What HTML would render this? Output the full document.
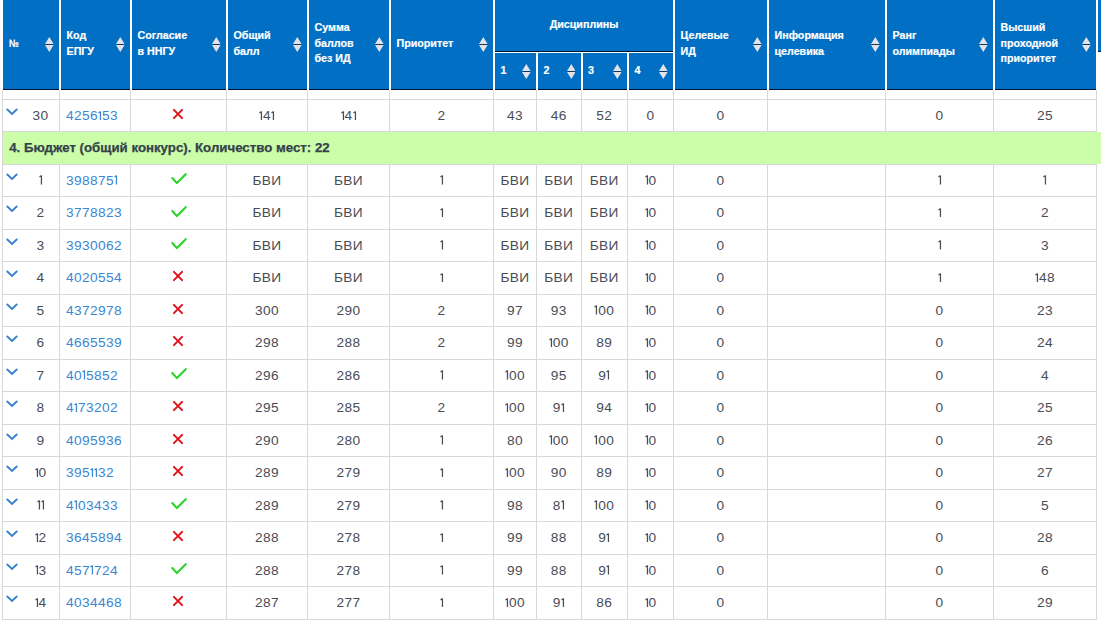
<!DOCTYPE html>
<html><head><meta charset="utf-8"><style>
html,body{margin:0;padding:0;background:#fff;width:1101px;height:620px;overflow:hidden;}
#w{position:relative;width:1101px;height:620px;overflow:hidden;}
#w div,#w span,#w svg{position:absolute;}
#w .ic{position:static;display:block;}
.ht{font-family:"Liberation Sans",sans-serif;font-weight:bold;font-size:10.7px;line-height:15.7px;color:#fff;white-space:nowrap;-webkit-text-stroke:0.2px #fff;}
.bt{font-family:"Liberation Sans",sans-serif;font-size:13.7px;line-height:16px;color:#4a4d55;white-space:nowrap;}
.lk{color:#3a87d3;}
#w svg.one{position:static;display:inline-block;vertical-align:baseline;}
.bt{letter-spacing:0.38px;}
.gt{font-family:"Liberation Sans",sans-serif;font-weight:bold;font-size:13.25px;line-height:16px;color:#34424b;white-space:nowrap;-webkit-text-stroke:0.25px #34424b;}
</style></head><body><div id="w">
<div style="left:3px;top:0px;width:1093px;height:89px;background:rgb(0,111,196);"></div>
<div style="left:3px;top:89px;width:1093px;height:1px;background:rgb(0,22,52);"></div>
<div style="left:59px;top:0px;width:2px;height:90px;background:#fff;"></div>
<div style="left:130px;top:0px;width:2px;height:90px;background:#fff;"></div>
<div style="left:226px;top:0px;width:2px;height:90px;background:#fff;"></div>
<div style="left:307px;top:0px;width:2px;height:90px;background:#fff;"></div>
<div style="left:389px;top:0px;width:2px;height:90px;background:#fff;"></div>
<div style="left:493px;top:0px;width:2px;height:90px;background:#fff;"></div>
<div style="left:536px;top:0px;width:2px;height:90px;background:#fff;"></div>
<div style="left:581px;top:0px;width:2px;height:90px;background:#fff;"></div>
<div style="left:627px;top:0px;width:2px;height:90px;background:#fff;"></div>
<div style="left:673px;top:0px;width:2px;height:90px;background:#fff;"></div>
<div style="left:767px;top:0px;width:2px;height:90px;background:#fff;"></div>
<div style="left:885px;top:0px;width:2px;height:90px;background:#fff;"></div>
<div style="left:993px;top:0px;width:2px;height:90px;background:#fff;"></div>
<div style="left:1096px;top:0px;width:2px;height:90px;background:#fff;"></div>
<div style="left:1098px;top:0px;width:3px;height:51px;background:rgb(0,111,196);"></div>
<div style="left:1098px;top:51px;width:3px;height:1px;background:rgb(0,22,52);"></div>
<div style="left:495px;top:51px;width:178px;height:1px;background:rgb(0,22,52);"></div>
<div style="left:495px;top:52px;width:178px;height:1px;background:#fff;"></div>
<div style="left:495px;top:0px;width:178px;height:51px;background:rgb(0,111,196);"></div>
<div class="ht" style="left:9px;top:35.75px"><span style="position:static;display:inline-block;transform:scaleX(0.82);transform-origin:0 0">№</span></div>
<svg style="left:45.199999999999996px;top:37.1px" width="8.6" height="15.0" viewBox="0 0 8.6 15.0"><rect x="0.6" y="7.1" width="7.3999999999999995" height="0.8" fill="#0a2e5c"/><path d="M0 7.0 L4.3 0 L8.6 7.0 Z M0 8.0 L4.3 15.0 L8.6 8.0 Z" fill="#e2e2e8"/></svg>
<div class="ht" style="left:66.5px;top:27.900000000000002px">Код<br>ЕПГУ</div>
<svg style="left:116.2px;top:37.1px" width="8.6" height="15.0" viewBox="0 0 8.6 15.0"><rect x="0.6" y="7.1" width="7.3999999999999995" height="0.8" fill="#0a2e5c"/><path d="M0 7.0 L4.3 0 L8.6 7.0 Z M0 8.0 L4.3 15.0 L8.6 8.0 Z" fill="#e2e2e8"/></svg>
<div class="ht" style="left:137.5px;top:27.900000000000002px">Согласие<br>в ННГУ</div>
<svg style="left:212.20000000000002px;top:37.1px" width="8.6" height="15.0" viewBox="0 0 8.6 15.0"><rect x="0.6" y="7.1" width="7.3999999999999995" height="0.8" fill="#0a2e5c"/><path d="M0 7.0 L4.3 0 L8.6 7.0 Z M0 8.0 L4.3 15.0 L8.6 8.0 Z" fill="#e2e2e8"/></svg>
<div class="ht" style="left:233.5px;top:27.900000000000002px">Общий<br>балл</div>
<svg style="left:293.2px;top:37.1px" width="8.6" height="15.0" viewBox="0 0 8.6 15.0"><rect x="0.6" y="7.1" width="7.3999999999999995" height="0.8" fill="#0a2e5c"/><path d="M0 7.0 L4.3 0 L8.6 7.0 Z M0 8.0 L4.3 15.0 L8.6 8.0 Z" fill="#e2e2e8"/></svg>
<div class="ht" style="left:314.5px;top:20.050000000000004px">Сумма<br>баллов<br>без ИД</div>
<svg style="left:375.2px;top:37.1px" width="8.6" height="15.0" viewBox="0 0 8.6 15.0"><rect x="0.6" y="7.1" width="7.3999999999999995" height="0.8" fill="#0a2e5c"/><path d="M0 7.0 L4.3 0 L8.6 7.0 Z M0 8.0 L4.3 15.0 L8.6 8.0 Z" fill="#e2e2e8"/></svg>
<div class="ht" style="left:396.5px;top:35.75px">Приоритет</div>
<svg style="left:479.2px;top:37.1px" width="8.6" height="15.0" viewBox="0 0 8.6 15.0"><rect x="0.6" y="7.1" width="7.3999999999999995" height="0.8" fill="#0a2e5c"/><path d="M0 7.0 L4.3 0 L8.6 7.0 Z M0 8.0 L4.3 15.0 L8.6 8.0 Z" fill="#e2e2e8"/></svg>
<div class="ht" style="left:680.5px;top:27.900000000000002px">Целевые<br>ИД</div>
<svg style="left:753.1999999999999px;top:37.1px" width="8.6" height="15.0" viewBox="0 0 8.6 15.0"><rect x="0.6" y="7.1" width="7.3999999999999995" height="0.8" fill="#0a2e5c"/><path d="M0 7.0 L4.3 0 L8.6 7.0 Z M0 8.0 L4.3 15.0 L8.6 8.0 Z" fill="#e2e2e8"/></svg>
<div class="ht" style="left:774.5px;top:27.900000000000002px">Информация<br>целевика</div>
<svg style="left:871.1999999999999px;top:37.1px" width="8.6" height="15.0" viewBox="0 0 8.6 15.0"><rect x="0.6" y="7.1" width="7.3999999999999995" height="0.8" fill="#0a2e5c"/><path d="M0 7.0 L4.3 0 L8.6 7.0 Z M0 8.0 L4.3 15.0 L8.6 8.0 Z" fill="#e2e2e8"/></svg>
<div class="ht" style="left:892.5px;top:27.900000000000002px">Ранг<br>олимпиады</div>
<svg style="left:979.1999999999999px;top:37.1px" width="8.6" height="15.0" viewBox="0 0 8.6 15.0"><rect x="0.6" y="7.1" width="7.3999999999999995" height="0.8" fill="#0a2e5c"/><path d="M0 7.0 L4.3 0 L8.6 7.0 Z M0 8.0 L4.3 15.0 L8.6 8.0 Z" fill="#e2e2e8"/></svg>
<div class="ht" style="left:1000.5px;top:20.050000000000004px">Высший<br>проходной<br>приоритет</div>
<svg style="left:1082.2px;top:37.1px" width="8.6" height="15.0" viewBox="0 0 8.6 15.0"><rect x="0.6" y="7.1" width="7.3999999999999995" height="0.8" fill="#0a2e5c"/><path d="M0 7.0 L4.3 0 L8.6 7.0 Z M0 8.0 L4.3 15.0 L8.6 8.0 Z" fill="#e2e2e8"/></svg>
<span class="ht" style="left:494.0px;top:17.15px;width:180px;text-align:center;">Дисциплины</span>
<div class="ht" style="left:500.5px;top:63.050000000000004px">1</div>
<svg style="left:522.1999999999999px;top:63.8px" width="8.6" height="15.0" viewBox="0 0 8.6 15.0"><rect x="0.6" y="7.1" width="7.3999999999999995" height="0.8" fill="#0a2e5c"/><path d="M0 7.0 L4.3 0 L8.6 7.0 Z M0 8.0 L4.3 15.0 L8.6 8.0 Z" fill="#e2e2e8"/></svg>
<div class="ht" style="left:543.5px;top:63.050000000000004px">2</div>
<svg style="left:566.6999999999999px;top:63.8px" width="8.6" height="15.0" viewBox="0 0 8.6 15.0"><rect x="0.6" y="7.1" width="7.3999999999999995" height="0.8" fill="#0a2e5c"/><path d="M0 7.0 L4.3 0 L8.6 7.0 Z M0 8.0 L4.3 15.0 L8.6 8.0 Z" fill="#e2e2e8"/></svg>
<div class="ht" style="left:588px;top:63.050000000000004px">3</div>
<svg style="left:613.1999999999999px;top:63.8px" width="8.6" height="15.0" viewBox="0 0 8.6 15.0"><rect x="0.6" y="7.1" width="7.3999999999999995" height="0.8" fill="#0a2e5c"/><path d="M0 7.0 L4.3 0 L8.6 7.0 Z M0 8.0 L4.3 15.0 L8.6 8.0 Z" fill="#e2e2e8"/></svg>
<div class="ht" style="left:634.5px;top:63.050000000000004px">4</div>
<svg style="left:659.1999999999999px;top:63.8px" width="8.6" height="15.0" viewBox="0 0 8.6 15.0"><rect x="0.6" y="7.1" width="7.3999999999999995" height="0.8" fill="#0a2e5c"/><path d="M0 7.0 L4.3 0 L8.6 7.0 Z M0 8.0 L4.3 15.0 L8.6 8.0 Z" fill="#e2e2e8"/></svg>
<div style="left:2px;top:90px;width:1px;height:530px;background:#d8d8d8;"></div>
<div style="left:59px;top:90px;width:1px;height:530px;background:#d8d8d8;"></div>
<div style="left:130px;top:90px;width:1px;height:530px;background:#d8d8d8;"></div>
<div style="left:226px;top:90px;width:1px;height:530px;background:#d8d8d8;"></div>
<div style="left:307px;top:90px;width:1px;height:530px;background:#d8d8d8;"></div>
<div style="left:389px;top:90px;width:1px;height:530px;background:#d8d8d8;"></div>
<div style="left:493px;top:90px;width:1px;height:530px;background:#d8d8d8;"></div>
<div style="left:536px;top:90px;width:1px;height:530px;background:#d8d8d8;"></div>
<div style="left:581px;top:90px;width:1px;height:530px;background:#d8d8d8;"></div>
<div style="left:627px;top:90px;width:1px;height:530px;background:#d8d8d8;"></div>
<div style="left:673px;top:90px;width:1px;height:530px;background:#d8d8d8;"></div>
<div style="left:767px;top:90px;width:1px;height:530px;background:#d8d8d8;"></div>
<div style="left:885px;top:90px;width:1px;height:530px;background:#d8d8d8;"></div>
<div style="left:993px;top:90px;width:1px;height:530px;background:#d8d8d8;"></div>
<div style="left:1096px;top:90px;width:1px;height:530px;background:#d8d8d8;"></div>
<div style="left:2px;top:99px;width:1095px;height:1px;background:#d8d8d8;"></div>
<div style="left:2px;top:131px;width:1095px;height:1px;background:#d8d8d8;"></div>
<div style="left:2px;top:164px;width:1095px;height:1px;background:#d8d8d8;"></div>
<div style="left:2px;top:196px;width:1095px;height:1px;background:#d8d8d8;"></div>
<div style="left:2px;top:229px;width:1095px;height:1px;background:#d8d8d8;"></div>
<div style="left:2px;top:261px;width:1095px;height:1px;background:#d8d8d8;"></div>
<div style="left:2px;top:294px;width:1095px;height:1px;background:#d8d8d8;"></div>
<div style="left:2px;top:326px;width:1095px;height:1px;background:#d8d8d8;"></div>
<div style="left:2px;top:359px;width:1095px;height:1px;background:#d8d8d8;"></div>
<div style="left:2px;top:391px;width:1095px;height:1px;background:#d8d8d8;"></div>
<div style="left:2px;top:424px;width:1095px;height:1px;background:#d8d8d8;"></div>
<div style="left:2px;top:456px;width:1095px;height:1px;background:#d8d8d8;"></div>
<div style="left:2px;top:489px;width:1095px;height:1px;background:#d8d8d8;"></div>
<div style="left:2px;top:521px;width:1095px;height:1px;background:#d8d8d8;"></div>
<div style="left:2px;top:554px;width:1095px;height:1px;background:#d8d8d8;"></div>
<div style="left:2px;top:586px;width:1095px;height:1px;background:#d8d8d8;"></div>
<div style="left:2px;top:619px;width:1095px;height:1px;background:#d8d8d8;"></div>
<div style="left:3px;top:132px;width:1098px;height:32px;background:#ccfda8;"></div>
<div class="gt" style="left:9.2px;top:140.4px">4. Бюджет (общий конкурс). Количество мест: 22</div>
<div class="ab" style="left:6px;top:108.10000000000001px"><svg class="ic" width="12" height="8" viewBox="0 0 12 8"><path d="M1.3 1.5 L6 6 L10.7 1.5" stroke="#3480cf" stroke-width="1.85" fill="none" stroke-linecap="round"/></svg></div>
<span class="bt" style="left:20.5px;top:108.10000000000001px;width:40px;text-align:center;">30</span>
<span class="bt lk" style="left:66.0px;top:108.10000000000001px">4256<svg class="one" width="4" height="9.6" viewBox="0 0 4 9.6"><path d="M2.45 9.6 V0.5 M2.6 0.6 L0.5 2" stroke="currentColor" stroke-width="1.25" fill="none"/></svg>53</span>
<div class="ab" style="left:172.3px;top:108.0px"><svg class="ic" width="12" height="12" viewBox="0 0 12 12"><path d="M1.9 1.9 L10.1 10.1 M10.1 1.9 L1.9 10.1" stroke="#e0101a" stroke-width="2" stroke-linecap="round"/></svg></div>
<span class="bt" style="left:217.0px;top:108.10000000000001px;width:100px;text-align:center;"><svg class="one" width="4" height="9.6" viewBox="0 0 4 9.6"><path d="M2.45 9.6 V0.5 M2.6 0.6 L0.5 2" stroke="currentColor" stroke-width="1.25" fill="none"/></svg>4<svg class="one" width="4" height="9.6" viewBox="0 0 4 9.6"><path d="M2.45 9.6 V0.5 M2.6 0.6 L0.5 2" stroke="currentColor" stroke-width="1.25" fill="none"/></svg></span>
<span class="bt" style="left:298.5px;top:108.10000000000001px;width:100px;text-align:center;"><svg class="one" width="4" height="9.6" viewBox="0 0 4 9.6"><path d="M2.45 9.6 V0.5 M2.6 0.6 L0.5 2" stroke="currentColor" stroke-width="1.25" fill="none"/></svg>4<svg class="one" width="4" height="9.6" viewBox="0 0 4 9.6"><path d="M2.45 9.6 V0.5 M2.6 0.6 L0.5 2" stroke="currentColor" stroke-width="1.25" fill="none"/></svg></span>
<span class="bt" style="left:391.5px;top:108.10000000000001px;width:100px;text-align:center;">2</span>
<span class="bt" style="left:465.0px;top:108.10000000000001px;width:100px;text-align:center;">43</span>
<span class="bt" style="left:508.75px;top:108.10000000000001px;width:100px;text-align:center;">46</span>
<span class="bt" style="left:554.25px;top:108.10000000000001px;width:100px;text-align:center;">52</span>
<span class="bt" style="left:600.5px;top:108.10000000000001px;width:100px;text-align:center;">0</span>
<span class="bt" style="left:670.5px;top:108.10000000000001px;width:100px;text-align:center;">0</span>
<span class="bt" style="left:889.5px;top:108.10000000000001px;width:100px;text-align:center;">0</span>
<span class="bt" style="left:995.0px;top:108.10000000000001px;width:100px;text-align:center;">25</span>
<div class="ab" style="left:6px;top:172.7px"><svg class="ic" width="12" height="8" viewBox="0 0 12 8"><path d="M1.3 1.5 L6 6 L10.7 1.5" stroke="#3480cf" stroke-width="1.85" fill="none" stroke-linecap="round"/></svg></div>
<span class="bt" style="left:20.5px;top:172.7px;width:40px;text-align:center;"><svg class="one" width="4" height="9.6" viewBox="0 0 4 9.6"><path d="M2.45 9.6 V0.5 M2.6 0.6 L0.5 2" stroke="currentColor" stroke-width="1.25" fill="none"/></svg></span>
<span class="bt lk" style="left:66.0px;top:172.7px">398875<svg class="one" width="4" height="9.6" viewBox="0 0 4 9.6"><path d="M2.45 9.6 V0.5 M2.6 0.6 L0.5 2" stroke="currentColor" stroke-width="1.25" fill="none"/></svg></span>
<div class="ab" style="left:170.6px;top:173.2px"><svg class="ic" width="16" height="12" viewBox="0 0 16 12"><path d="M1.3 5.0 L5.9 10.1 L14.7 1.2" stroke="#2bd42b" stroke-width="2.1" stroke-linecap="round" stroke-linejoin="round" fill="none"/></svg></div>
<span class="bt" style="left:217.0px;top:172.7px;width:100px;text-align:center;">БВИ</span>
<span class="bt" style="left:298.5px;top:172.7px;width:100px;text-align:center;">БВИ</span>
<span class="bt" style="left:391.5px;top:172.7px;width:100px;text-align:center;"><svg class="one" width="4" height="9.6" viewBox="0 0 4 9.6"><path d="M2.45 9.6 V0.5 M2.6 0.6 L0.5 2" stroke="currentColor" stroke-width="1.25" fill="none"/></svg></span>
<span class="bt" style="left:465.0px;top:172.7px;width:100px;text-align:center;">БВИ</span>
<span class="bt" style="left:508.75px;top:172.7px;width:100px;text-align:center;">БВИ</span>
<span class="bt" style="left:554.25px;top:172.7px;width:100px;text-align:center;">БВИ</span>
<span class="bt" style="left:600.5px;top:172.7px;width:100px;text-align:center;"><svg class="one" width="4" height="9.6" viewBox="0 0 4 9.6"><path d="M2.45 9.6 V0.5 M2.6 0.6 L0.5 2" stroke="currentColor" stroke-width="1.25" fill="none"/></svg>0</span>
<span class="bt" style="left:670.5px;top:172.7px;width:100px;text-align:center;">0</span>
<span class="bt" style="left:889.5px;top:172.7px;width:100px;text-align:center;"><svg class="one" width="4" height="9.6" viewBox="0 0 4 9.6"><path d="M2.45 9.6 V0.5 M2.6 0.6 L0.5 2" stroke="currentColor" stroke-width="1.25" fill="none"/></svg></span>
<span class="bt" style="left:995.0px;top:172.7px;width:100px;text-align:center;"><svg class="one" width="4" height="9.6" viewBox="0 0 4 9.6"><path d="M2.45 9.6 V0.5 M2.6 0.6 L0.5 2" stroke="currentColor" stroke-width="1.25" fill="none"/></svg></span>
<div class="ab" style="left:6px;top:205.2px"><svg class="ic" width="12" height="8" viewBox="0 0 12 8"><path d="M1.3 1.5 L6 6 L10.7 1.5" stroke="#3480cf" stroke-width="1.85" fill="none" stroke-linecap="round"/></svg></div>
<span class="bt" style="left:20.5px;top:205.2px;width:40px;text-align:center;">2</span>
<span class="bt lk" style="left:66.0px;top:205.2px">3778823</span>
<div class="ab" style="left:170.6px;top:205.7px"><svg class="ic" width="16" height="12" viewBox="0 0 16 12"><path d="M1.3 5.0 L5.9 10.1 L14.7 1.2" stroke="#2bd42b" stroke-width="2.1" stroke-linecap="round" stroke-linejoin="round" fill="none"/></svg></div>
<span class="bt" style="left:217.0px;top:205.2px;width:100px;text-align:center;">БВИ</span>
<span class="bt" style="left:298.5px;top:205.2px;width:100px;text-align:center;">БВИ</span>
<span class="bt" style="left:391.5px;top:205.2px;width:100px;text-align:center;"><svg class="one" width="4" height="9.6" viewBox="0 0 4 9.6"><path d="M2.45 9.6 V0.5 M2.6 0.6 L0.5 2" stroke="currentColor" stroke-width="1.25" fill="none"/></svg></span>
<span class="bt" style="left:465.0px;top:205.2px;width:100px;text-align:center;">БВИ</span>
<span class="bt" style="left:508.75px;top:205.2px;width:100px;text-align:center;">БВИ</span>
<span class="bt" style="left:554.25px;top:205.2px;width:100px;text-align:center;">БВИ</span>
<span class="bt" style="left:600.5px;top:205.2px;width:100px;text-align:center;"><svg class="one" width="4" height="9.6" viewBox="0 0 4 9.6"><path d="M2.45 9.6 V0.5 M2.6 0.6 L0.5 2" stroke="currentColor" stroke-width="1.25" fill="none"/></svg>0</span>
<span class="bt" style="left:670.5px;top:205.2px;width:100px;text-align:center;">0</span>
<span class="bt" style="left:889.5px;top:205.2px;width:100px;text-align:center;"><svg class="one" width="4" height="9.6" viewBox="0 0 4 9.6"><path d="M2.45 9.6 V0.5 M2.6 0.6 L0.5 2" stroke="currentColor" stroke-width="1.25" fill="none"/></svg></span>
<span class="bt" style="left:995.0px;top:205.2px;width:100px;text-align:center;">2</span>
<div class="ab" style="left:6px;top:237.7px"><svg class="ic" width="12" height="8" viewBox="0 0 12 8"><path d="M1.3 1.5 L6 6 L10.7 1.5" stroke="#3480cf" stroke-width="1.85" fill="none" stroke-linecap="round"/></svg></div>
<span class="bt" style="left:20.5px;top:237.7px;width:40px;text-align:center;">3</span>
<span class="bt lk" style="left:66.0px;top:237.7px">3930062</span>
<div class="ab" style="left:170.6px;top:238.2px"><svg class="ic" width="16" height="12" viewBox="0 0 16 12"><path d="M1.3 5.0 L5.9 10.1 L14.7 1.2" stroke="#2bd42b" stroke-width="2.1" stroke-linecap="round" stroke-linejoin="round" fill="none"/></svg></div>
<span class="bt" style="left:217.0px;top:237.7px;width:100px;text-align:center;">БВИ</span>
<span class="bt" style="left:298.5px;top:237.7px;width:100px;text-align:center;">БВИ</span>
<span class="bt" style="left:391.5px;top:237.7px;width:100px;text-align:center;"><svg class="one" width="4" height="9.6" viewBox="0 0 4 9.6"><path d="M2.45 9.6 V0.5 M2.6 0.6 L0.5 2" stroke="currentColor" stroke-width="1.25" fill="none"/></svg></span>
<span class="bt" style="left:465.0px;top:237.7px;width:100px;text-align:center;">БВИ</span>
<span class="bt" style="left:508.75px;top:237.7px;width:100px;text-align:center;">БВИ</span>
<span class="bt" style="left:554.25px;top:237.7px;width:100px;text-align:center;">БВИ</span>
<span class="bt" style="left:600.5px;top:237.7px;width:100px;text-align:center;"><svg class="one" width="4" height="9.6" viewBox="0 0 4 9.6"><path d="M2.45 9.6 V0.5 M2.6 0.6 L0.5 2" stroke="currentColor" stroke-width="1.25" fill="none"/></svg>0</span>
<span class="bt" style="left:670.5px;top:237.7px;width:100px;text-align:center;">0</span>
<span class="bt" style="left:889.5px;top:237.7px;width:100px;text-align:center;"><svg class="one" width="4" height="9.6" viewBox="0 0 4 9.6"><path d="M2.45 9.6 V0.5 M2.6 0.6 L0.5 2" stroke="currentColor" stroke-width="1.25" fill="none"/></svg></span>
<span class="bt" style="left:995.0px;top:237.7px;width:100px;text-align:center;">3</span>
<div class="ab" style="left:6px;top:270.2px"><svg class="ic" width="12" height="8" viewBox="0 0 12 8"><path d="M1.3 1.5 L6 6 L10.7 1.5" stroke="#3480cf" stroke-width="1.85" fill="none" stroke-linecap="round"/></svg></div>
<span class="bt" style="left:20.5px;top:270.2px;width:40px;text-align:center;">4</span>
<span class="bt lk" style="left:66.0px;top:270.2px">4020554</span>
<div class="ab" style="left:172.3px;top:270.1px"><svg class="ic" width="12" height="12" viewBox="0 0 12 12"><path d="M1.9 1.9 L10.1 10.1 M10.1 1.9 L1.9 10.1" stroke="#e0101a" stroke-width="2" stroke-linecap="round"/></svg></div>
<span class="bt" style="left:217.0px;top:270.2px;width:100px;text-align:center;">БВИ</span>
<span class="bt" style="left:298.5px;top:270.2px;width:100px;text-align:center;">БВИ</span>
<span class="bt" style="left:391.5px;top:270.2px;width:100px;text-align:center;"><svg class="one" width="4" height="9.6" viewBox="0 0 4 9.6"><path d="M2.45 9.6 V0.5 M2.6 0.6 L0.5 2" stroke="currentColor" stroke-width="1.25" fill="none"/></svg></span>
<span class="bt" style="left:465.0px;top:270.2px;width:100px;text-align:center;">БВИ</span>
<span class="bt" style="left:508.75px;top:270.2px;width:100px;text-align:center;">БВИ</span>
<span class="bt" style="left:554.25px;top:270.2px;width:100px;text-align:center;">БВИ</span>
<span class="bt" style="left:600.5px;top:270.2px;width:100px;text-align:center;"><svg class="one" width="4" height="9.6" viewBox="0 0 4 9.6"><path d="M2.45 9.6 V0.5 M2.6 0.6 L0.5 2" stroke="currentColor" stroke-width="1.25" fill="none"/></svg>0</span>
<span class="bt" style="left:670.5px;top:270.2px;width:100px;text-align:center;">0</span>
<span class="bt" style="left:889.5px;top:270.2px;width:100px;text-align:center;"><svg class="one" width="4" height="9.6" viewBox="0 0 4 9.6"><path d="M2.45 9.6 V0.5 M2.6 0.6 L0.5 2" stroke="currentColor" stroke-width="1.25" fill="none"/></svg></span>
<span class="bt" style="left:995.0px;top:270.2px;width:100px;text-align:center;"><svg class="one" width="4" height="9.6" viewBox="0 0 4 9.6"><path d="M2.45 9.6 V0.5 M2.6 0.6 L0.5 2" stroke="currentColor" stroke-width="1.25" fill="none"/></svg>48</span>
<div class="ab" style="left:6px;top:302.7px"><svg class="ic" width="12" height="8" viewBox="0 0 12 8"><path d="M1.3 1.5 L6 6 L10.7 1.5" stroke="#3480cf" stroke-width="1.85" fill="none" stroke-linecap="round"/></svg></div>
<span class="bt" style="left:20.5px;top:302.7px;width:40px;text-align:center;">5</span>
<span class="bt lk" style="left:66.0px;top:302.7px">4372978</span>
<div class="ab" style="left:172.3px;top:302.6px"><svg class="ic" width="12" height="12" viewBox="0 0 12 12"><path d="M1.9 1.9 L10.1 10.1 M10.1 1.9 L1.9 10.1" stroke="#e0101a" stroke-width="2" stroke-linecap="round"/></svg></div>
<span class="bt" style="left:217.0px;top:302.7px;width:100px;text-align:center;">300</span>
<span class="bt" style="left:298.5px;top:302.7px;width:100px;text-align:center;">290</span>
<span class="bt" style="left:391.5px;top:302.7px;width:100px;text-align:center;">2</span>
<span class="bt" style="left:465.0px;top:302.7px;width:100px;text-align:center;">97</span>
<span class="bt" style="left:508.75px;top:302.7px;width:100px;text-align:center;">93</span>
<span class="bt" style="left:554.25px;top:302.7px;width:100px;text-align:center;"><svg class="one" width="4" height="9.6" viewBox="0 0 4 9.6"><path d="M2.45 9.6 V0.5 M2.6 0.6 L0.5 2" stroke="currentColor" stroke-width="1.25" fill="none"/></svg>00</span>
<span class="bt" style="left:600.5px;top:302.7px;width:100px;text-align:center;"><svg class="one" width="4" height="9.6" viewBox="0 0 4 9.6"><path d="M2.45 9.6 V0.5 M2.6 0.6 L0.5 2" stroke="currentColor" stroke-width="1.25" fill="none"/></svg>0</span>
<span class="bt" style="left:670.5px;top:302.7px;width:100px;text-align:center;">0</span>
<span class="bt" style="left:889.5px;top:302.7px;width:100px;text-align:center;">0</span>
<span class="bt" style="left:995.0px;top:302.7px;width:100px;text-align:center;">23</span>
<div class="ab" style="left:6px;top:335.2px"><svg class="ic" width="12" height="8" viewBox="0 0 12 8"><path d="M1.3 1.5 L6 6 L10.7 1.5" stroke="#3480cf" stroke-width="1.85" fill="none" stroke-linecap="round"/></svg></div>
<span class="bt" style="left:20.5px;top:335.2px;width:40px;text-align:center;">6</span>
<span class="bt lk" style="left:66.0px;top:335.2px">4665539</span>
<div class="ab" style="left:172.3px;top:335.1px"><svg class="ic" width="12" height="12" viewBox="0 0 12 12"><path d="M1.9 1.9 L10.1 10.1 M10.1 1.9 L1.9 10.1" stroke="#e0101a" stroke-width="2" stroke-linecap="round"/></svg></div>
<span class="bt" style="left:217.0px;top:335.2px;width:100px;text-align:center;">298</span>
<span class="bt" style="left:298.5px;top:335.2px;width:100px;text-align:center;">288</span>
<span class="bt" style="left:391.5px;top:335.2px;width:100px;text-align:center;">2</span>
<span class="bt" style="left:465.0px;top:335.2px;width:100px;text-align:center;">99</span>
<span class="bt" style="left:508.75px;top:335.2px;width:100px;text-align:center;"><svg class="one" width="4" height="9.6" viewBox="0 0 4 9.6"><path d="M2.45 9.6 V0.5 M2.6 0.6 L0.5 2" stroke="currentColor" stroke-width="1.25" fill="none"/></svg>00</span>
<span class="bt" style="left:554.25px;top:335.2px;width:100px;text-align:center;">89</span>
<span class="bt" style="left:600.5px;top:335.2px;width:100px;text-align:center;"><svg class="one" width="4" height="9.6" viewBox="0 0 4 9.6"><path d="M2.45 9.6 V0.5 M2.6 0.6 L0.5 2" stroke="currentColor" stroke-width="1.25" fill="none"/></svg>0</span>
<span class="bt" style="left:670.5px;top:335.2px;width:100px;text-align:center;">0</span>
<span class="bt" style="left:889.5px;top:335.2px;width:100px;text-align:center;">0</span>
<span class="bt" style="left:995.0px;top:335.2px;width:100px;text-align:center;">24</span>
<div class="ab" style="left:6px;top:367.7px"><svg class="ic" width="12" height="8" viewBox="0 0 12 8"><path d="M1.3 1.5 L6 6 L10.7 1.5" stroke="#3480cf" stroke-width="1.85" fill="none" stroke-linecap="round"/></svg></div>
<span class="bt" style="left:20.5px;top:367.7px;width:40px;text-align:center;">7</span>
<span class="bt lk" style="left:66.0px;top:367.7px">40<svg class="one" width="4" height="9.6" viewBox="0 0 4 9.6"><path d="M2.45 9.6 V0.5 M2.6 0.6 L0.5 2" stroke="currentColor" stroke-width="1.25" fill="none"/></svg>5852</span>
<div class="ab" style="left:170.6px;top:368.2px"><svg class="ic" width="16" height="12" viewBox="0 0 16 12"><path d="M1.3 5.0 L5.9 10.1 L14.7 1.2" stroke="#2bd42b" stroke-width="2.1" stroke-linecap="round" stroke-linejoin="round" fill="none"/></svg></div>
<span class="bt" style="left:217.0px;top:367.7px;width:100px;text-align:center;">296</span>
<span class="bt" style="left:298.5px;top:367.7px;width:100px;text-align:center;">286</span>
<span class="bt" style="left:391.5px;top:367.7px;width:100px;text-align:center;"><svg class="one" width="4" height="9.6" viewBox="0 0 4 9.6"><path d="M2.45 9.6 V0.5 M2.6 0.6 L0.5 2" stroke="currentColor" stroke-width="1.25" fill="none"/></svg></span>
<span class="bt" style="left:465.0px;top:367.7px;width:100px;text-align:center;"><svg class="one" width="4" height="9.6" viewBox="0 0 4 9.6"><path d="M2.45 9.6 V0.5 M2.6 0.6 L0.5 2" stroke="currentColor" stroke-width="1.25" fill="none"/></svg>00</span>
<span class="bt" style="left:508.75px;top:367.7px;width:100px;text-align:center;">95</span>
<span class="bt" style="left:554.25px;top:367.7px;width:100px;text-align:center;">9<svg class="one" width="4" height="9.6" viewBox="0 0 4 9.6"><path d="M2.45 9.6 V0.5 M2.6 0.6 L0.5 2" stroke="currentColor" stroke-width="1.25" fill="none"/></svg></span>
<span class="bt" style="left:600.5px;top:367.7px;width:100px;text-align:center;"><svg class="one" width="4" height="9.6" viewBox="0 0 4 9.6"><path d="M2.45 9.6 V0.5 M2.6 0.6 L0.5 2" stroke="currentColor" stroke-width="1.25" fill="none"/></svg>0</span>
<span class="bt" style="left:670.5px;top:367.7px;width:100px;text-align:center;">0</span>
<span class="bt" style="left:889.5px;top:367.7px;width:100px;text-align:center;">0</span>
<span class="bt" style="left:995.0px;top:367.7px;width:100px;text-align:center;">4</span>
<div class="ab" style="left:6px;top:400.2px"><svg class="ic" width="12" height="8" viewBox="0 0 12 8"><path d="M1.3 1.5 L6 6 L10.7 1.5" stroke="#3480cf" stroke-width="1.85" fill="none" stroke-linecap="round"/></svg></div>
<span class="bt" style="left:20.5px;top:400.2px;width:40px;text-align:center;">8</span>
<span class="bt lk" style="left:66.0px;top:400.2px">4<svg class="one" width="4" height="9.6" viewBox="0 0 4 9.6"><path d="M2.45 9.6 V0.5 M2.6 0.6 L0.5 2" stroke="currentColor" stroke-width="1.25" fill="none"/></svg>73202</span>
<div class="ab" style="left:172.3px;top:400.1px"><svg class="ic" width="12" height="12" viewBox="0 0 12 12"><path d="M1.9 1.9 L10.1 10.1 M10.1 1.9 L1.9 10.1" stroke="#e0101a" stroke-width="2" stroke-linecap="round"/></svg></div>
<span class="bt" style="left:217.0px;top:400.2px;width:100px;text-align:center;">295</span>
<span class="bt" style="left:298.5px;top:400.2px;width:100px;text-align:center;">285</span>
<span class="bt" style="left:391.5px;top:400.2px;width:100px;text-align:center;">2</span>
<span class="bt" style="left:465.0px;top:400.2px;width:100px;text-align:center;"><svg class="one" width="4" height="9.6" viewBox="0 0 4 9.6"><path d="M2.45 9.6 V0.5 M2.6 0.6 L0.5 2" stroke="currentColor" stroke-width="1.25" fill="none"/></svg>00</span>
<span class="bt" style="left:508.75px;top:400.2px;width:100px;text-align:center;">9<svg class="one" width="4" height="9.6" viewBox="0 0 4 9.6"><path d="M2.45 9.6 V0.5 M2.6 0.6 L0.5 2" stroke="currentColor" stroke-width="1.25" fill="none"/></svg></span>
<span class="bt" style="left:554.25px;top:400.2px;width:100px;text-align:center;">94</span>
<span class="bt" style="left:600.5px;top:400.2px;width:100px;text-align:center;"><svg class="one" width="4" height="9.6" viewBox="0 0 4 9.6"><path d="M2.45 9.6 V0.5 M2.6 0.6 L0.5 2" stroke="currentColor" stroke-width="1.25" fill="none"/></svg>0</span>
<span class="bt" style="left:670.5px;top:400.2px;width:100px;text-align:center;">0</span>
<span class="bt" style="left:889.5px;top:400.2px;width:100px;text-align:center;">0</span>
<span class="bt" style="left:995.0px;top:400.2px;width:100px;text-align:center;">25</span>
<div class="ab" style="left:6px;top:432.7px"><svg class="ic" width="12" height="8" viewBox="0 0 12 8"><path d="M1.3 1.5 L6 6 L10.7 1.5" stroke="#3480cf" stroke-width="1.85" fill="none" stroke-linecap="round"/></svg></div>
<span class="bt" style="left:20.5px;top:432.7px;width:40px;text-align:center;">9</span>
<span class="bt lk" style="left:66.0px;top:432.7px">4095936</span>
<div class="ab" style="left:172.3px;top:432.6px"><svg class="ic" width="12" height="12" viewBox="0 0 12 12"><path d="M1.9 1.9 L10.1 10.1 M10.1 1.9 L1.9 10.1" stroke="#e0101a" stroke-width="2" stroke-linecap="round"/></svg></div>
<span class="bt" style="left:217.0px;top:432.7px;width:100px;text-align:center;">290</span>
<span class="bt" style="left:298.5px;top:432.7px;width:100px;text-align:center;">280</span>
<span class="bt" style="left:391.5px;top:432.7px;width:100px;text-align:center;"><svg class="one" width="4" height="9.6" viewBox="0 0 4 9.6"><path d="M2.45 9.6 V0.5 M2.6 0.6 L0.5 2" stroke="currentColor" stroke-width="1.25" fill="none"/></svg></span>
<span class="bt" style="left:465.0px;top:432.7px;width:100px;text-align:center;">80</span>
<span class="bt" style="left:508.75px;top:432.7px;width:100px;text-align:center;"><svg class="one" width="4" height="9.6" viewBox="0 0 4 9.6"><path d="M2.45 9.6 V0.5 M2.6 0.6 L0.5 2" stroke="currentColor" stroke-width="1.25" fill="none"/></svg>00</span>
<span class="bt" style="left:554.25px;top:432.7px;width:100px;text-align:center;"><svg class="one" width="4" height="9.6" viewBox="0 0 4 9.6"><path d="M2.45 9.6 V0.5 M2.6 0.6 L0.5 2" stroke="currentColor" stroke-width="1.25" fill="none"/></svg>00</span>
<span class="bt" style="left:600.5px;top:432.7px;width:100px;text-align:center;"><svg class="one" width="4" height="9.6" viewBox="0 0 4 9.6"><path d="M2.45 9.6 V0.5 M2.6 0.6 L0.5 2" stroke="currentColor" stroke-width="1.25" fill="none"/></svg>0</span>
<span class="bt" style="left:670.5px;top:432.7px;width:100px;text-align:center;">0</span>
<span class="bt" style="left:889.5px;top:432.7px;width:100px;text-align:center;">0</span>
<span class="bt" style="left:995.0px;top:432.7px;width:100px;text-align:center;">26</span>
<div class="ab" style="left:6px;top:465.2px"><svg class="ic" width="12" height="8" viewBox="0 0 12 8"><path d="M1.3 1.5 L6 6 L10.7 1.5" stroke="#3480cf" stroke-width="1.85" fill="none" stroke-linecap="round"/></svg></div>
<span class="bt" style="left:20.5px;top:465.2px;width:40px;text-align:center;"><svg class="one" width="4" height="9.6" viewBox="0 0 4 9.6"><path d="M2.45 9.6 V0.5 M2.6 0.6 L0.5 2" stroke="currentColor" stroke-width="1.25" fill="none"/></svg>0</span>
<span class="bt lk" style="left:66.0px;top:465.2px">395<svg class="one" width="4" height="9.6" viewBox="0 0 4 9.6"><path d="M2.45 9.6 V0.5 M2.6 0.6 L0.5 2" stroke="currentColor" stroke-width="1.25" fill="none"/></svg><svg class="one" width="4" height="9.6" viewBox="0 0 4 9.6"><path d="M2.45 9.6 V0.5 M2.6 0.6 L0.5 2" stroke="currentColor" stroke-width="1.25" fill="none"/></svg>32</span>
<div class="ab" style="left:172.3px;top:465.1px"><svg class="ic" width="12" height="12" viewBox="0 0 12 12"><path d="M1.9 1.9 L10.1 10.1 M10.1 1.9 L1.9 10.1" stroke="#e0101a" stroke-width="2" stroke-linecap="round"/></svg></div>
<span class="bt" style="left:217.0px;top:465.2px;width:100px;text-align:center;">289</span>
<span class="bt" style="left:298.5px;top:465.2px;width:100px;text-align:center;">279</span>
<span class="bt" style="left:391.5px;top:465.2px;width:100px;text-align:center;"><svg class="one" width="4" height="9.6" viewBox="0 0 4 9.6"><path d="M2.45 9.6 V0.5 M2.6 0.6 L0.5 2" stroke="currentColor" stroke-width="1.25" fill="none"/></svg></span>
<span class="bt" style="left:465.0px;top:465.2px;width:100px;text-align:center;"><svg class="one" width="4" height="9.6" viewBox="0 0 4 9.6"><path d="M2.45 9.6 V0.5 M2.6 0.6 L0.5 2" stroke="currentColor" stroke-width="1.25" fill="none"/></svg>00</span>
<span class="bt" style="left:508.75px;top:465.2px;width:100px;text-align:center;">90</span>
<span class="bt" style="left:554.25px;top:465.2px;width:100px;text-align:center;">89</span>
<span class="bt" style="left:600.5px;top:465.2px;width:100px;text-align:center;"><svg class="one" width="4" height="9.6" viewBox="0 0 4 9.6"><path d="M2.45 9.6 V0.5 M2.6 0.6 L0.5 2" stroke="currentColor" stroke-width="1.25" fill="none"/></svg>0</span>
<span class="bt" style="left:670.5px;top:465.2px;width:100px;text-align:center;">0</span>
<span class="bt" style="left:889.5px;top:465.2px;width:100px;text-align:center;">0</span>
<span class="bt" style="left:995.0px;top:465.2px;width:100px;text-align:center;">27</span>
<div class="ab" style="left:6px;top:497.7px"><svg class="ic" width="12" height="8" viewBox="0 0 12 8"><path d="M1.3 1.5 L6 6 L10.7 1.5" stroke="#3480cf" stroke-width="1.85" fill="none" stroke-linecap="round"/></svg></div>
<span class="bt" style="left:20.5px;top:497.7px;width:40px;text-align:center;"><svg class="one" width="4" height="9.6" viewBox="0 0 4 9.6"><path d="M2.45 9.6 V0.5 M2.6 0.6 L0.5 2" stroke="currentColor" stroke-width="1.25" fill="none"/></svg><svg class="one" width="4" height="9.6" viewBox="0 0 4 9.6"><path d="M2.45 9.6 V0.5 M2.6 0.6 L0.5 2" stroke="currentColor" stroke-width="1.25" fill="none"/></svg></span>
<span class="bt lk" style="left:66.0px;top:497.7px">4<svg class="one" width="4" height="9.6" viewBox="0 0 4 9.6"><path d="M2.45 9.6 V0.5 M2.6 0.6 L0.5 2" stroke="currentColor" stroke-width="1.25" fill="none"/></svg>03433</span>
<div class="ab" style="left:170.6px;top:498.2px"><svg class="ic" width="16" height="12" viewBox="0 0 16 12"><path d="M1.3 5.0 L5.9 10.1 L14.7 1.2" stroke="#2bd42b" stroke-width="2.1" stroke-linecap="round" stroke-linejoin="round" fill="none"/></svg></div>
<span class="bt" style="left:217.0px;top:497.7px;width:100px;text-align:center;">289</span>
<span class="bt" style="left:298.5px;top:497.7px;width:100px;text-align:center;">279</span>
<span class="bt" style="left:391.5px;top:497.7px;width:100px;text-align:center;"><svg class="one" width="4" height="9.6" viewBox="0 0 4 9.6"><path d="M2.45 9.6 V0.5 M2.6 0.6 L0.5 2" stroke="currentColor" stroke-width="1.25" fill="none"/></svg></span>
<span class="bt" style="left:465.0px;top:497.7px;width:100px;text-align:center;">98</span>
<span class="bt" style="left:508.75px;top:497.7px;width:100px;text-align:center;">8<svg class="one" width="4" height="9.6" viewBox="0 0 4 9.6"><path d="M2.45 9.6 V0.5 M2.6 0.6 L0.5 2" stroke="currentColor" stroke-width="1.25" fill="none"/></svg></span>
<span class="bt" style="left:554.25px;top:497.7px;width:100px;text-align:center;"><svg class="one" width="4" height="9.6" viewBox="0 0 4 9.6"><path d="M2.45 9.6 V0.5 M2.6 0.6 L0.5 2" stroke="currentColor" stroke-width="1.25" fill="none"/></svg>00</span>
<span class="bt" style="left:600.5px;top:497.7px;width:100px;text-align:center;"><svg class="one" width="4" height="9.6" viewBox="0 0 4 9.6"><path d="M2.45 9.6 V0.5 M2.6 0.6 L0.5 2" stroke="currentColor" stroke-width="1.25" fill="none"/></svg>0</span>
<span class="bt" style="left:670.5px;top:497.7px;width:100px;text-align:center;">0</span>
<span class="bt" style="left:889.5px;top:497.7px;width:100px;text-align:center;">0</span>
<span class="bt" style="left:995.0px;top:497.7px;width:100px;text-align:center;">5</span>
<div class="ab" style="left:6px;top:530.2px"><svg class="ic" width="12" height="8" viewBox="0 0 12 8"><path d="M1.3 1.5 L6 6 L10.7 1.5" stroke="#3480cf" stroke-width="1.85" fill="none" stroke-linecap="round"/></svg></div>
<span class="bt" style="left:20.5px;top:530.2px;width:40px;text-align:center;"><svg class="one" width="4" height="9.6" viewBox="0 0 4 9.6"><path d="M2.45 9.6 V0.5 M2.6 0.6 L0.5 2" stroke="currentColor" stroke-width="1.25" fill="none"/></svg>2</span>
<span class="bt lk" style="left:66.0px;top:530.2px">3645894</span>
<div class="ab" style="left:172.3px;top:530.1px"><svg class="ic" width="12" height="12" viewBox="0 0 12 12"><path d="M1.9 1.9 L10.1 10.1 M10.1 1.9 L1.9 10.1" stroke="#e0101a" stroke-width="2" stroke-linecap="round"/></svg></div>
<span class="bt" style="left:217.0px;top:530.2px;width:100px;text-align:center;">288</span>
<span class="bt" style="left:298.5px;top:530.2px;width:100px;text-align:center;">278</span>
<span class="bt" style="left:391.5px;top:530.2px;width:100px;text-align:center;"><svg class="one" width="4" height="9.6" viewBox="0 0 4 9.6"><path d="M2.45 9.6 V0.5 M2.6 0.6 L0.5 2" stroke="currentColor" stroke-width="1.25" fill="none"/></svg></span>
<span class="bt" style="left:465.0px;top:530.2px;width:100px;text-align:center;">99</span>
<span class="bt" style="left:508.75px;top:530.2px;width:100px;text-align:center;">88</span>
<span class="bt" style="left:554.25px;top:530.2px;width:100px;text-align:center;">9<svg class="one" width="4" height="9.6" viewBox="0 0 4 9.6"><path d="M2.45 9.6 V0.5 M2.6 0.6 L0.5 2" stroke="currentColor" stroke-width="1.25" fill="none"/></svg></span>
<span class="bt" style="left:600.5px;top:530.2px;width:100px;text-align:center;"><svg class="one" width="4" height="9.6" viewBox="0 0 4 9.6"><path d="M2.45 9.6 V0.5 M2.6 0.6 L0.5 2" stroke="currentColor" stroke-width="1.25" fill="none"/></svg>0</span>
<span class="bt" style="left:670.5px;top:530.2px;width:100px;text-align:center;">0</span>
<span class="bt" style="left:889.5px;top:530.2px;width:100px;text-align:center;">0</span>
<span class="bt" style="left:995.0px;top:530.2px;width:100px;text-align:center;">28</span>
<div class="ab" style="left:6px;top:562.7px"><svg class="ic" width="12" height="8" viewBox="0 0 12 8"><path d="M1.3 1.5 L6 6 L10.7 1.5" stroke="#3480cf" stroke-width="1.85" fill="none" stroke-linecap="round"/></svg></div>
<span class="bt" style="left:20.5px;top:562.7px;width:40px;text-align:center;"><svg class="one" width="4" height="9.6" viewBox="0 0 4 9.6"><path d="M2.45 9.6 V0.5 M2.6 0.6 L0.5 2" stroke="currentColor" stroke-width="1.25" fill="none"/></svg>3</span>
<span class="bt lk" style="left:66.0px;top:562.7px">457<svg class="one" width="4" height="9.6" viewBox="0 0 4 9.6"><path d="M2.45 9.6 V0.5 M2.6 0.6 L0.5 2" stroke="currentColor" stroke-width="1.25" fill="none"/></svg>724</span>
<div class="ab" style="left:170.6px;top:563.2px"><svg class="ic" width="16" height="12" viewBox="0 0 16 12"><path d="M1.3 5.0 L5.9 10.1 L14.7 1.2" stroke="#2bd42b" stroke-width="2.1" stroke-linecap="round" stroke-linejoin="round" fill="none"/></svg></div>
<span class="bt" style="left:217.0px;top:562.7px;width:100px;text-align:center;">288</span>
<span class="bt" style="left:298.5px;top:562.7px;width:100px;text-align:center;">278</span>
<span class="bt" style="left:391.5px;top:562.7px;width:100px;text-align:center;"><svg class="one" width="4" height="9.6" viewBox="0 0 4 9.6"><path d="M2.45 9.6 V0.5 M2.6 0.6 L0.5 2" stroke="currentColor" stroke-width="1.25" fill="none"/></svg></span>
<span class="bt" style="left:465.0px;top:562.7px;width:100px;text-align:center;">99</span>
<span class="bt" style="left:508.75px;top:562.7px;width:100px;text-align:center;">88</span>
<span class="bt" style="left:554.25px;top:562.7px;width:100px;text-align:center;">9<svg class="one" width="4" height="9.6" viewBox="0 0 4 9.6"><path d="M2.45 9.6 V0.5 M2.6 0.6 L0.5 2" stroke="currentColor" stroke-width="1.25" fill="none"/></svg></span>
<span class="bt" style="left:600.5px;top:562.7px;width:100px;text-align:center;"><svg class="one" width="4" height="9.6" viewBox="0 0 4 9.6"><path d="M2.45 9.6 V0.5 M2.6 0.6 L0.5 2" stroke="currentColor" stroke-width="1.25" fill="none"/></svg>0</span>
<span class="bt" style="left:670.5px;top:562.7px;width:100px;text-align:center;">0</span>
<span class="bt" style="left:889.5px;top:562.7px;width:100px;text-align:center;">0</span>
<span class="bt" style="left:995.0px;top:562.7px;width:100px;text-align:center;">6</span>
<div class="ab" style="left:6px;top:595.2px"><svg class="ic" width="12" height="8" viewBox="0 0 12 8"><path d="M1.3 1.5 L6 6 L10.7 1.5" stroke="#3480cf" stroke-width="1.85" fill="none" stroke-linecap="round"/></svg></div>
<span class="bt" style="left:20.5px;top:595.2px;width:40px;text-align:center;"><svg class="one" width="4" height="9.6" viewBox="0 0 4 9.6"><path d="M2.45 9.6 V0.5 M2.6 0.6 L0.5 2" stroke="currentColor" stroke-width="1.25" fill="none"/></svg>4</span>
<span class="bt lk" style="left:66.0px;top:595.2px">4034468</span>
<div class="ab" style="left:172.3px;top:595.1px"><svg class="ic" width="12" height="12" viewBox="0 0 12 12"><path d="M1.9 1.9 L10.1 10.1 M10.1 1.9 L1.9 10.1" stroke="#e0101a" stroke-width="2" stroke-linecap="round"/></svg></div>
<span class="bt" style="left:217.0px;top:595.2px;width:100px;text-align:center;">287</span>
<span class="bt" style="left:298.5px;top:595.2px;width:100px;text-align:center;">277</span>
<span class="bt" style="left:391.5px;top:595.2px;width:100px;text-align:center;"><svg class="one" width="4" height="9.6" viewBox="0 0 4 9.6"><path d="M2.45 9.6 V0.5 M2.6 0.6 L0.5 2" stroke="currentColor" stroke-width="1.25" fill="none"/></svg></span>
<span class="bt" style="left:465.0px;top:595.2px;width:100px;text-align:center;"><svg class="one" width="4" height="9.6" viewBox="0 0 4 9.6"><path d="M2.45 9.6 V0.5 M2.6 0.6 L0.5 2" stroke="currentColor" stroke-width="1.25" fill="none"/></svg>00</span>
<span class="bt" style="left:508.75px;top:595.2px;width:100px;text-align:center;">9<svg class="one" width="4" height="9.6" viewBox="0 0 4 9.6"><path d="M2.45 9.6 V0.5 M2.6 0.6 L0.5 2" stroke="currentColor" stroke-width="1.25" fill="none"/></svg></span>
<span class="bt" style="left:554.25px;top:595.2px;width:100px;text-align:center;">86</span>
<span class="bt" style="left:600.5px;top:595.2px;width:100px;text-align:center;"><svg class="one" width="4" height="9.6" viewBox="0 0 4 9.6"><path d="M2.45 9.6 V0.5 M2.6 0.6 L0.5 2" stroke="currentColor" stroke-width="1.25" fill="none"/></svg>0</span>
<span class="bt" style="left:670.5px;top:595.2px;width:100px;text-align:center;">0</span>
<span class="bt" style="left:889.5px;top:595.2px;width:100px;text-align:center;">0</span>
<span class="bt" style="left:995.0px;top:595.2px;width:100px;text-align:center;">29</span>
</div></body></html>
